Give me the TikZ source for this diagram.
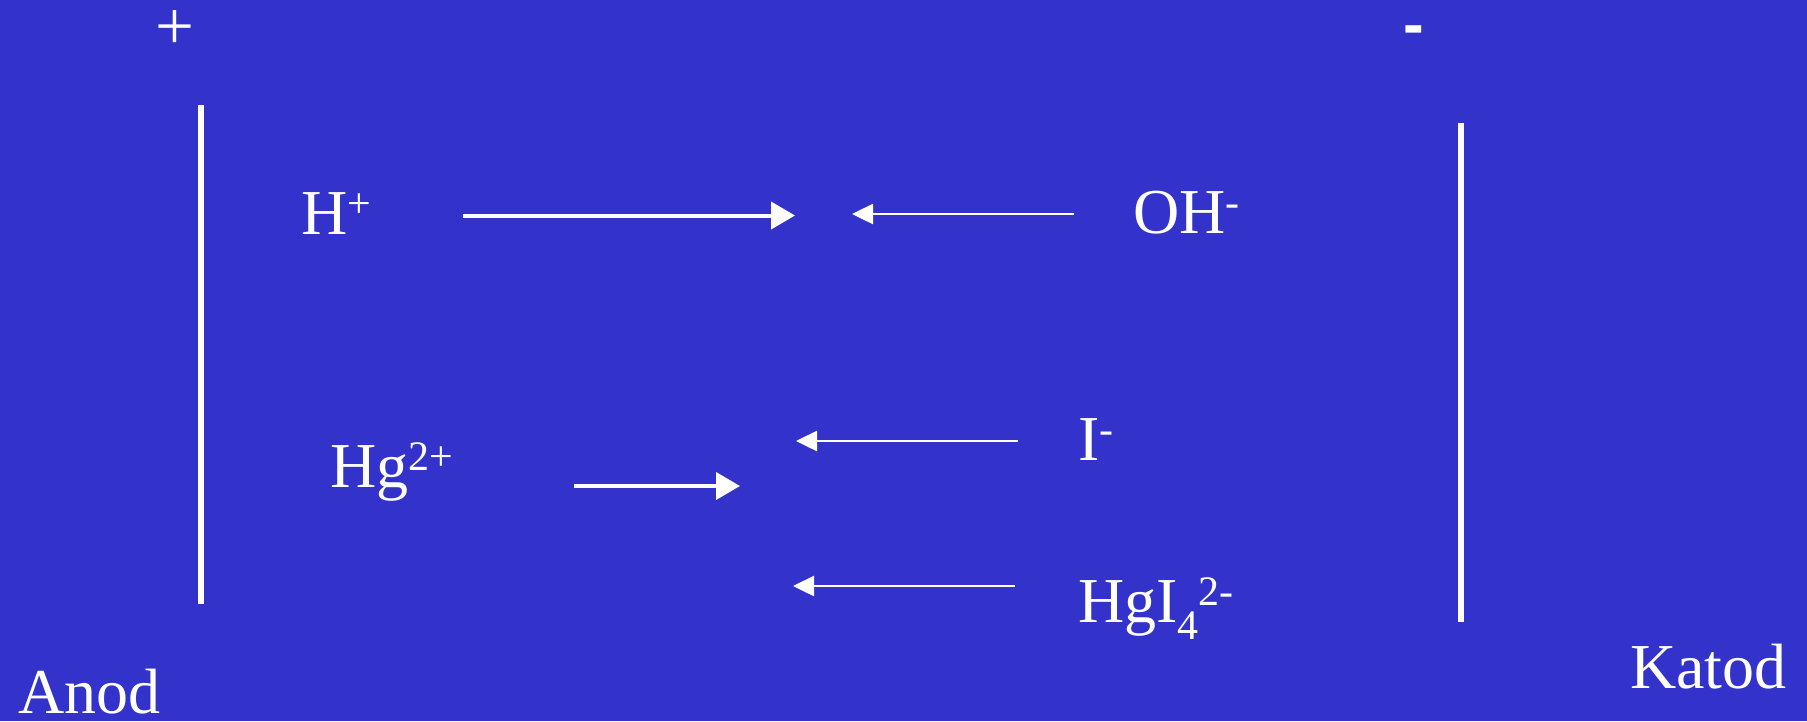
\documentclass[tikz,border=0pt]{standalone}
\usepackage{fontspec}
\setmainfont{Liberation Serif}
\newfontfamily\dashfont{Liberation Sans}
\usetikzlibrary{arrows.meta}
\definecolor{bgblue}{RGB}{51,51,204}
\newcommand\supx[1]{\raisebox{17pt}{\fontsize{42pt}{42pt}\selectfont #1}}
\newcommand\subx[1]{\raisebox{-17pt}{\fontsize{42pt}{42pt}\selectfont #1}}
\tikzset{
  lbl/.style={text=white, inner sep=0pt, outer sep=0pt, anchor=base west, font=\fontsize{64pt}{64pt}\selectfont},
  electrode/.style={draw=white, line width=6pt},
  thickarrow/.style={draw=white, line width=4pt, -{Triangle[length=24pt,width=27pt]}},
  thinarrow/.style={draw=white, line width=2.5pt, -{Triangle[length=21pt,width=20pt]}},
}
\begin{document}
\begin{tikzpicture}[x=1pt,y=-1pt]
\fill[bgblue] (0,0) rectangle (1807,721);
\useasboundingbox (0,0) rectangle (1807,721);
% polarity signs
\node[text=white, inner sep=0pt, anchor=base, font=\fontsize{69pt}{69pt}\selectfont] (plus) at (175,49) {+};
\node[text=white, inner sep=0pt, anchor=base, font=\dashfont\bfseries\fontsize{62pt}{62pt}\selectfont] (minus) at (1414,45) {-};
% electrodes
\coordinate (a1) at (200.7,105);
\coordinate (a2) at (200.7,604);
\coordinate (k1) at (1460.5,123);
\coordinate (k2) at (1460.5,622);
\draw[electrode] (a1) -- (a2);
\draw[electrode] (k1) -- (k2);
% labels
\node[lbl] (hplus) at (301,234) {H\supx{+}};
\node[lbl] (oh) at (1133,233) {OH\supx{-}};
\node[lbl] (hg) at (330,487) {Hg\supx{2+}};
\node[lbl] (iod) at (1078,460) {I\supx{-}};
\node[lbl] (hgi) at (1078,622) {HgI\subx{4}\supx{2-}};
\node[lbl] (anod) at (18,713) {Anod};
\node[lbl] (katod) at (1630,688) {Katod};
% arrows
\coordinate (h1) at (463,215.5);
\coordinate (h2) at (795,215.5);
\coordinate (o1) at (1074,214);
\coordinate (o2) at (852,214);
\coordinate (g1) at (574,486);
\coordinate (g2) at (740,486);
\coordinate (i1) at (1018,441);
\coordinate (i2) at (796,441);
\coordinate (t1) at (1015,586);
\coordinate (t2) at (793,586);
\draw[thickarrow] (h1) -- (h2);
\draw[thinarrow] (o1) -- (o2);
\draw[thickarrow] (g1) -- (g2);
\draw[thinarrow] (i1) -- (i2);
\draw[thinarrow] (t1) -- (t2);
\end{tikzpicture}
\end{document}
